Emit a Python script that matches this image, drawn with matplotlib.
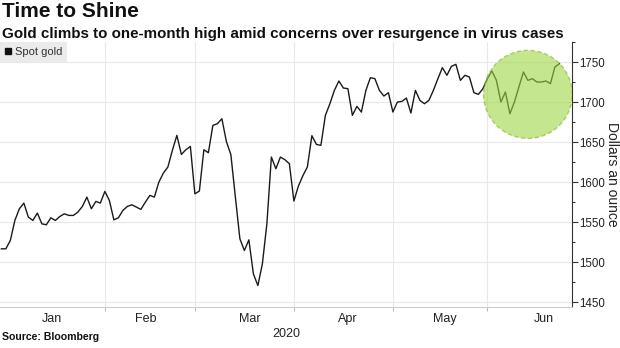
import numpy as np
import matplotlib
matplotlib.use("Agg")
import matplotlib.pyplot as plt
from matplotlib.patches import Ellipse
from matplotlib.lines import Line2D
from matplotlib.ticker import FixedLocator, MultipleLocator, NullFormatter

#####################################################
# data (spot gold, one value per weekday from start of 2020)
#####################################################

spot_gold = [
    1516.7, 1516.7, 1527.1, 1552.1, 1566.7, 1573.8, 1556.3, 1552.1, 1561.3, 1547.9,
    1546.7, 1555.4, 1552.1, 1557.1, 1560.4, 1558.4, 1558.4, 1562.5, 1569.6, 1581.3,
    1566.7, 1575.9, 1573.8, 1588.4, 1577.1, 1552.9, 1555.4, 1564.6, 1569.6, 1571.7,
    1568.8, 1565.9, 1575.0, 1583.4, 1581.3, 1600.0, 1611.3, 1618.8, 1639.6, 1658.4,
    1634.6, 1640.4, 1644.6, 1585.4, 1588.8, 1640.4, 1636.7, 1670.9, 1672.9, 1679.2,
    1650.8, 1634.2, 1581.3, 1529.2, 1514.6, 1527.9, 1485.4, 1470.8, 1497.9, 1547.9,
    1631.3, 1616.7, 1631.3, 1628.0, 1623.0, 1576.3, 1595.0, 1608.0, 1619.0, 1658.0,
    1647.1, 1645.9, 1683.4, 1697.9, 1714.6, 1726.3, 1717.5, 1716.7, 1683.4, 1694.6,
    1687.5, 1714.6, 1730.4, 1729.2, 1714.6, 1707.5, 1711.7, 1687.5, 1700.0, 1700.8,
    1705.0, 1686.3, 1714.6, 1702.1, 1697.9, 1702.1, 1714.6, 1729.2, 1743.0, 1733.4,
    1744.6, 1747.1, 1727.1, 1733.4, 1731.3, 1711.7, 1709.6, 1716.7, 1729.2, 1738.8,
    1727.1, 1700.0, 1712.5, 1685.4, 1700.0, 1718.8, 1737.5, 1727.1, 1729.2, 1725.0,
    1725.0, 1726.3, 1723.0, 1743.8, 1747.9,
]

months = ["Jan", "Feb", "Mar", "Apr", "May", "Jun"]
month_starts = [23, 43, 65, 87, 108]  # weekday index where a new month begins
month_centers = [11.3, 32.1, 55.3, 77.0, 98.6, 120.6]

# highlighted area (centre in weekday index / dollars)
circle_x = 117.0
circle_y = 1709.6

#####################################################
# plot
#####################################################

font = ["Liberation Sans", "DejaVu Sans"]

fig = plt.figure(figsize=(6.2, 3.48), dpi=100)
ax = fig.add_axes([0.0, 0.1178, 0.9226, 0.7615])

x = np.arange(len(spot_gold))
ax.plot(x, spot_gold, color="#1a1a1a", linewidth=1.0, zorder=3)

circle = Ellipse(
    (circle_x, circle_y), width=19.7, height=110,
    facecolor="#9ed645", alpha=0.6, edgecolor="#7fb52e",
    linestyle=(0, (3, 2)), linewidth=1.0, zorder=4,
)
ax.add_patch(circle)

ax.set_xlim(-0.3, 126.8)
ax.set_ylim(1444, 1775)

# y axis on the right
ax.yaxis.tick_right()
ax.yaxis.set_major_locator(MultipleLocator(50))
ax.yaxis.set_minor_locator(MultipleLocator(25))
ax.tick_params(axis="y", which="major", length=4, width=0.8, color="#333333",
               labelsize=8.3, pad=1.5, labelcolor="#222222")
ax.tick_params(axis="y", which="minor", length=2.5, width=0.8, color="#333333")
for lab in ax.get_yticklabels():
    lab.set_family(font)

# x axis: ticks at month starts, labels centred in months
ax.xaxis.set_major_locator(FixedLocator(month_starts))
ax.xaxis.set_major_formatter(NullFormatter())
ax.xaxis.set_minor_locator(FixedLocator(month_centers))
ax.set_xticklabels(months, minor=True)
ax.tick_params(axis="x", which="major", length=3, width=0.8, color="#bbbbbb")
ax.tick_params(axis="x", which="minor", length=0, labelsize=9, pad=4,
               labelcolor="#222222")
for lab in ax.get_xticklabels(minor=True):
    lab.set_family(font)

ax.grid(True, which="major", color="#e8e8e8", linewidth=0.8, zorder=0)
ax.set_axisbelow(True)

for side in ["top", "left"]:
    ax.spines[side].set_visible(False)
ax.spines["right"].set_color("#333333")
ax.spines["right"].set_linewidth(0.8)
ax.spines["bottom"].set_color("#cccccc")
ax.spines["bottom"].set_linewidth(0.8)

ax.text(0.5, -0.08, "2020", transform=ax.transAxes, ha="center", va="top",
        fontsize=9, family=font, color="#222222")

handle = Line2D([], [], marker="s", linestyle="none", color="#111111", markersize=4.5)
leg = ax.legend([handle], ["Spot gold"], loc="upper left", bbox_to_anchor=(0, 1),
                borderaxespad=0, frameon=True, fancybox=False, handlelength=0.6,
                handletextpad=0.3, borderpad=0.45,
                prop={"family": font, "size": 8})
leg.get_frame().set_facecolor("#ebebeb")
leg.get_frame().set_edgecolor("none")
leg.get_frame().set_alpha(1)
for t in leg.get_texts():
    t.set_color("#333333")

# axis title on the far right, reading downwards
fig.text(612.5 / 620, 1 - 174 / 348, "Dollars an ounce", rotation=270,
         ha="center", va="center", fontsize=10, family=font, color="#222222")

fig.text(0.004, 0.995, "Time to Shine", ha="left", va="top", fontsize=15,
         fontweight="bold", family=font, color="#111111")
fig.text(0.004, 0.922, "Gold climbs to one-month high amid concerns over resurgence in virus cases",
         ha="left", va="top", fontsize=10.9, fontweight="bold", family=font, color="#111111")
fig.text(0.004, 0.018, "Source: Bloomberg", ha="left", va="bottom", fontsize=7.6,
         fontweight="bold", family=font, color="#111111")

plt.savefig("out.png", dpi=100)
plt.close()
